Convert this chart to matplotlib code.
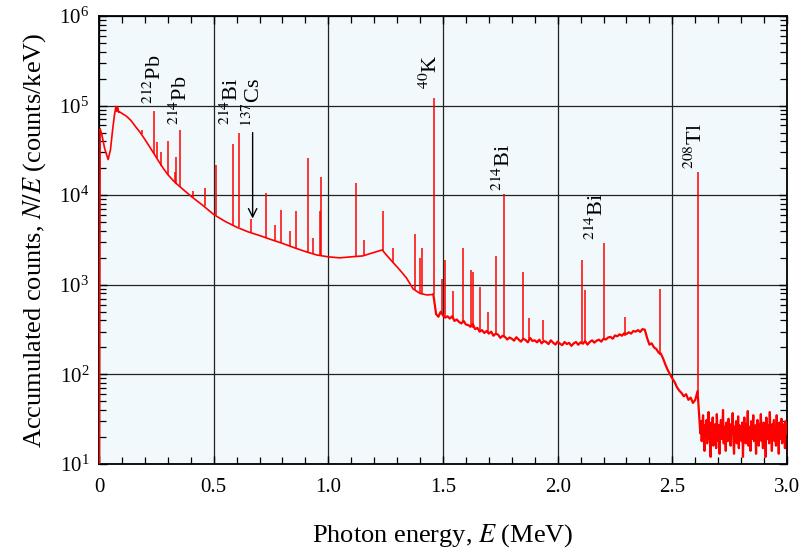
import matplotlib
matplotlib.use("Agg")
import matplotlib.pyplot as plt
from matplotlib.ticker import FixedLocator, LogLocator, NullFormatter
import numpy as np

plt.rcParams.update({
    "font.family": "serif",
    "font.serif": ["Liberation Serif", "DejaVu Serif"],
    "mathtext.fontset": "stix",
    "font.size": 15,
})

# ---- continuum (MeV, counts/keV) ----
low_e = [0.002, 0.005, 0.012, 0.025, 0.040, 0.050, 0.060, 0.068, 0.074, 0.078,
         0.082, 0.086, 0.090, 0.100, 0.120, 0.140, 0.160, 0.180, 0.200, 0.220,
         0.240, 0.260, 0.280, 0.300, 0.330, 0.360, 0.400, 0.450, 0.500, 0.550,
         0.600, 0.650, 0.700, 0.750, 0.800, 0.850, 0.900, 0.950, 1.000, 1.050,
         1.100, 1.150, 1.200, 1.235, 1.250, 1.280, 1.310, 1.340, 1.370, 1.400,
         1.430, 1.458]
low_n = [5, 5.5e4, 4.8e4, 3.3e4, 2.5e4, 3.2e4, 5.5e4, 8.0e4, 9.8e4, 8.6e4,
         9.6e4, 8.4e4, 8.5e4, 8.2e4, 7.6e4, 6.8e4, 5.8e4, 5.0e4, 4.2e4, 3.5e4,
         2.9e4, 2.4e4, 2.0e4, 1.7e4, 1.4e4, 1.2e4, 9.8e3, 7.8e3, 6.1e3, 5.1e3,
         4.4e3, 3.9e3, 3.55e3, 3.2e3, 2.9e3, 2.6e3, 2.35e3, 2.15e3, 2.05e3, 2.0e3,
         2.05e3, 2.1e3, 2.3e3, 2.45e3, 2.2e3, 1.8e3, 1.48e3, 1.2e3, 900, 800,
         770, 780]

# 1.47 ... 2.61 MeV, 10 keV channels
mid_start, mid_step = 1.47, 0.01
mid_n = [470, 440, 500, 455, 430, 445,
         420, 445, 395, 410, 385, 370, 395, 360,
         355, 340, 365, 320, 330, 300, 312, 290, 305, 285,
         300, 270, 285, 278, 255, 270, 262, 245, 258, 250,
         238, 260, 245, 232, 250, 242, 228, 255, 236, 240,
         228, 244, 222, 236, 230, 218, 240, 226, 215, 232,
         220, 212, 230, 218, 225, 208, 222, 230, 214, 228,
         220, 235, 215, 230, 240, 226, 238, 244, 232, 250,
         245, 258, 262, 250, 272, 266, 280, 270, 288, 282,
         295, 285, 305, 300, 312, 298, 320, 315,
         255, 215, 222, 200, 192, 175, 170, 150,
         128, 112, 100, 90, 82, 72, 66, 62, 57, 60, 52, 55, 48, 52, 65]

# 2.622 ... 3.0 MeV, 3 keV channels
high_start, high_step = 2.622, 0.003
high_n = [22, 30, 18, 25, 35, 20, 14, 27, 24, 31, 17, 21, 38, 19, 26, 12, 29, 23, 33, 16,
          24, 20, 28, 15, 36, 22, 18, 27, 13, 25, 31, 19, 23, 40, 17, 26, 21, 14, 29, 24,
          18, 32, 20, 25, 16, 28, 22, 37, 19, 13, 26, 23, 30, 17, 21, 34, 15, 27, 20, 24,
          18, 29, 12, 25, 33, 21, 17, 28, 23, 39, 16, 22, 26, 14, 30, 19, 24, 35, 18, 21,
          27, 13, 25, 31, 20, 16, 28, 22, 36, 18, 24, 15, 29, 21, 26, 12, 33, 19, 23, 27,
          17, 38, 20, 25, 14, 28, 22, 31, 18, 24, 16, 35, 21, 26, 13, 29, 19, 23, 32, 17,
          25, 20, 28, 15, 30, 22]

# ---- photopeaks: energy, top, foot ----
peak_e = [0.186, 0.239, 0.252, 0.270, 0.300, 0.330, 0.338, 0.352, 0.409, 0.463,
          0.511, 0.583, 0.609, 0.662, 0.727, 0.768, 0.795, 0.835, 0.860, 0.911,
          0.934, 0.964, 0.969, 1.120, 1.155, 1.238, 1.281, 1.378, 1.401, 1.408,
          1.461, 1.496, 1.509, 1.543, 1.588, 1.621, 1.631, 1.661, 1.695, 1.730,
          1.764, 1.847, 1.873, 1.935, 2.104, 2.118, 2.204, 2.293, 2.448, 2.614]
peak_top = [5.4e4, 8.7e4, 3.9e4, 3.0e4, 4.0e4, 1.8e4, 2.7e4, 5.4e4, 1.1e4, 1.2e4,
            2.2e4, 3.7e4, 4.9e4, 5.4e3, 1.05e4, 4.7e3, 6.9e3, 4.0e3, 6.6e3, 2.6e4,
            3.3e3, 6.7e3, 1.6e4, 1.38e4, 3.2e3, 6.6e3, 2.6e3, 3.7e3, 2.0e3, 2.6e3,
            1.23e5, 1.15e3, 1.9e3, 850, 2.6e3, 1.45e3, 1.4e3, 950, 500, 2.1e3,
            1.02e4, 1.4e3, 430, 400, 1.9e3, 870, 2.9e3, 440, 890, 1.8e4]
peak_base = [4.8e4, 2.9e4, 2.6e4, 2.1e4, 1.7e4, 1.4e4, 1.35e4, 1.25e4, 9.6e3, 7.5e3,
             6.0e3, 4.7e3, 4.4e3, 3.8e3, 3.35e3, 3.1e3, 2.95e3, 2.7e3, 2.55e3, 2.3e3,
             2.2e3, 2.1e3, 2.1e3, 2.05e3, 2.1e3, 2.4e3, 1.75e3, 880, 800, 790,
             780, 470, 450, 410, 370, 345, 330, 300, 290, 280,
             262, 245, 245, 240, 230, 225, 245, 270, 165, 60]

# ---- labels ----
label_txt = [r"$^{212}$Pb", r"$^{214}$Pb", r"$^{214}$Bi", r"$^{137}$Cs",
             r"$^{40}$K", r"$^{214}$Bi", r"$^{214}$Bi", r"$^{208}$Tl"]
label_e = [0.245, 0.357, 0.580, 0.675, 1.446, 1.765, 2.170, 2.600]
label_n = [1.05e5, 6.1e4, 6.0e4, 5.8e4, 1.55e5, 1.1e4, 3.2e3, 1.95e4]
cs_arrow = (0.670, 5.0e4, 5.5e3)

mid_e = mid_start + mid_step * np.arange(len(mid_n))
high_e = high_start + high_step * np.arange(len(high_n))
noisy_e = np.concatenate([[low_e[-1]], mid_e, high_e])
noisy_n = np.concatenate([[low_n[-1]], mid_n, high_n])

fig = plt.figure(figsize=(8.02, 5.54), dpi=100)
ax = fig.add_axes([0.1234, 0.1625, 0.8579, 0.8086])
ax.set_facecolor("#f2f9fc")

red = "#ff0000"
ax.plot(low_e, low_n, color=red, lw=1.2, zorder=3)
ax.plot(noisy_e, noisy_n, color=red, lw=1.6, zorder=3)
ax.vlines(peak_e, peak_base, peak_top, color=red, lw=1.1, zorder=3)

ax.set_yscale("log")
ax.set_xlim(0, 3.0)
ax.set_ylim(10, 1e6)

ax.xaxis.set_major_locator(FixedLocator([0, 0.5, 1.0, 1.5, 2.0, 2.5, 3.0]))
ax.set_xticklabels(["0", "0.5", "1.0", "1.5", "2.0", "2.5", "3.0"])
ax.xaxis.set_minor_locator(FixedLocator(np.arange(0.1, 3.0, 0.1)))
ax.yaxis.set_major_locator(LogLocator(base=10, numticks=10))
ax.yaxis.set_minor_locator(LogLocator(base=10, subs=np.arange(2, 10), numticks=10))
ax.yaxis.set_minor_formatter(NullFormatter())

ax.tick_params(which="both", direction="in", top=True, right=True, colors="k")
ax.tick_params(which="major", length=6, width=1)
ax.tick_params(which="minor", length=5, width=0.9)
ax.tick_params(axis="x", which="major", pad=10, labelsize=15)
ax.tick_params(axis="y", which="major", pad=7, labelsize=15)

ax.grid(True, which="major", color="#222222", lw=0.9, zorder=1)
ax.set_axisbelow(True)
for sp in ax.spines.values():
    sp.set_linewidth(1.3)

ax.set_xlabel(r"Photon energy, $E$ (MeV)", fontsize=19, labelpad=18)
ax.set_ylabel(r"Accumulated counts, $N/E$ (counts/keV)", fontsize=19, labelpad=8)

for t, e, n in zip(label_txt, label_e, label_n):
    ax.text(e, n, t, rotation=90, ha="center", va="bottom", fontsize=16, zorder=4)

ax.annotate("", xy=(cs_arrow[0], cs_arrow[2]), xytext=(cs_arrow[0], cs_arrow[1]),
            arrowprops=dict(arrowstyle="->", color="k", lw=1.0, shrinkA=0, shrinkB=0),
            zorder=4)

fig.savefig("out.png", dpi=100)
